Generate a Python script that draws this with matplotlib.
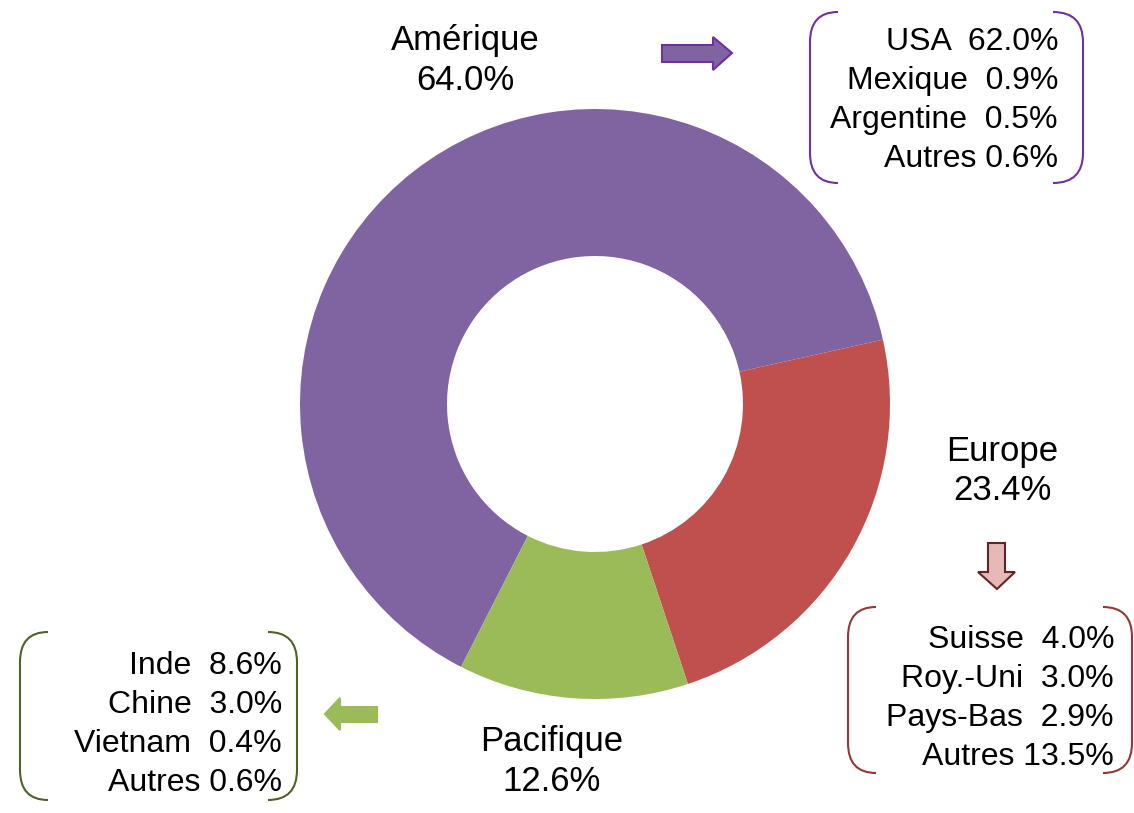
import matplotlib.pyplot as plt
from matplotlib.patches import Polygon, PathPatch
from matplotlib.path import Path

W, H = 1134, 813

regions = ['Amérique', 'Europe', 'Pacifique']
shares = [64.0, 23.4, 12.6]
colors = ['#8064A2', '#C0504D', '#9BBB59']

amerique_names = ['USA', 'Mexique', 'Argentine', 'Autres']
amerique_vals = [62.0, 0.9, 0.5, 0.6]
europe_names = ['Suisse', 'Roy.-Uni', 'Pays-Bas', 'Autres']
europe_vals = [4.0, 3.0, 2.9, 13.5]
pacifique_names = ['Inde', 'Chine', 'Vietnam', 'Autres']
pacifique_vals = [8.6, 3.0, 0.4, 0.6]

plt.rcParams['font.family'] = ['Liberation Sans', 'DejaVu Sans']
FS_REGION = 25
FS_LIST = 23

fig = plt.figure(figsize=(W / 100, H / 100), dpi=100)
ax = fig.add_axes([0, 0, 1, 1])
ax.set_xlim(0, W)
ax.set_ylim(0, H)
ax.set_aspect('equal')
ax.axis('off')


def Y(y):
    # pixel row (from top) -> data y
    return H - y


ax.pie(shares, colors=colors, startangle=243, counterclock=False,
       center=(595, Y(404)), radius=295,
       wedgeprops=dict(width=147, edgecolor='none'))
ax.set_xlim(0, W)
ax.set_ylim(0, H)

# region labels
label_pos = [(465, 41), (1002, 452), (552, 742)]
for name, val, (x, y) in zip(regions, shares, label_pos):
    ax.text(x, Y(y), name, ha='center', va='center', fontsize=FS_REGION)
    ax.text(x, Y(y + 39), f'{val:.1f}%', ha='center', va='center', fontsize=FS_REGION)


def detail(names, vals, xr, y0):
    for i, (n, v) in enumerate(zip(names, vals)):
        sep = ' ' if n == 'Autres' else '  '
        ax.text(xr, Y(y0 + 39 * i), f'{n}{sep}{v:.1f}%', ha='right', va='center',
                fontsize=FS_LIST)


detail(amerique_names, amerique_vals, 1058, 42)
detail(europe_names, europe_vals, 1114, 640)
detail(pacifique_names, pacifique_vals, 282, 666)


def bracket(x_end, x_vert, y_top, y_bot, color, r=30):
    verts = [(x_end, Y(y_top)), (x_vert, Y(y_top)), (x_vert, Y(y_top + r)),
             (x_vert, Y(y_bot - r)), (x_vert, Y(y_bot)), (x_end, Y(y_bot))]
    codes = [Path.MOVETO, Path.CURVE3, Path.CURVE3, Path.LINETO, Path.CURVE3, Path.CURVE3]
    ax.add_patch(PathPatch(Path(verts, codes), fill=False, edgecolor=color, lw=1.5))


bracket(838, 810, 12, 183, '#7030A0')
bracket(1053, 1083, 12, 183, '#7030A0')
bracket(876, 848, 607, 773, '#953735')
bracket(1103, 1132, 607, 773, '#953735')
bracket(48, 20, 632, 800, '#4F6228')
bracket(268, 297, 632, 800, '#4F6228')

# arrows
right_arrow = [(662, 45), (713, 45), (713, 37), (732, 53), (713, 70), (713, 62), (662, 62)]
down_arrow = [(988, 543), (1005, 543), (1005, 572), (1015, 572), (997, 589), (978, 572), (988, 572)]
left_arrow = [(377, 707), (340, 707), (340, 698), (325, 714), (340, 730), (340, 722), (377, 722)]
for pts, fc, ec in [(right_arrow, '#8064A2', '#7030A0'),
                    (down_arrow, '#E6B9B8', '#632523'),
                    (left_arrow, '#9BBB59', '#9BBB59')]:
    ax.add_patch(Polygon([(x, Y(y)) for x, y in pts], closed=True,
                         facecolor=fc, edgecolor=ec, lw=1.5))

fig.savefig('out.png', dpi=100)
